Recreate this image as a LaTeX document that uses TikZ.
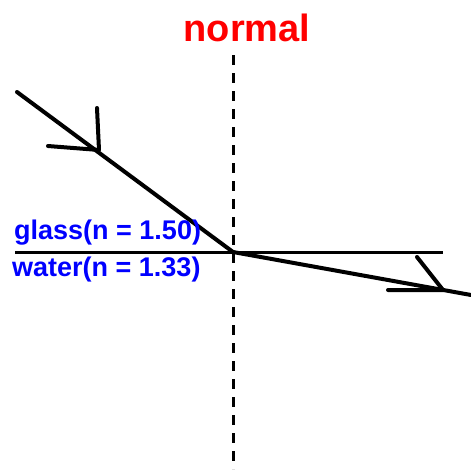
\documentclass[tikz,border=0pt]{standalone}
\usepackage{fontspec}
\setmainfont{Liberation Sans}
\begin{document}
\begin{tikzpicture}[x=1pt,y=-1pt,
  ray/.style={line width=4pt,line cap=round,line join=round,black},
  normalline/.style={line width=3pt,dash pattern=on 10pt off 8pt,black},
  surface/.style={line width=3pt,black},
  lbl/.style={inner sep=0pt,anchor=west,text=blue,font=\bfseries\fontsize{27}{28}\selectfont},
  redlbl/.style={inner sep=0pt,text=red,font=\bfseries\fontsize{38}{40}\selectfont}]
\useasboundingbox (0,0) rectangle (471,469);
\coordinate (ntop) at (233,55);
\coordinate (nbot) at (233,469);
\coordinate (sleft) at (15,252);
\coordinate (sright) at (443,252);
\coordinate (o) at (233,252);
\coordinate (start) at (17,92);
\coordinate (end) at (471,295);
\coordinate (a1tip) at (99,150);
\coordinate (a1u) at (97,108);
\coordinate (a1l) at (48,146);
\coordinate (a2tip) at (443,290);
\coordinate (a2u) at (417,257);
\coordinate (a2l) at (388,290);
\draw[normalline] (ntop) -- (nbot);
\draw[surface] (sleft) -- (sright);
\draw[ray] (start) -- (o) -- (end);
\draw[ray] (a1u) -- (a1tip) -- (a1l);
\draw[ray] (a2u) -- (a2tip) -- (a2l);
\node[redlbl] (normal) at (247,28) {normal};
\node[lbl] (glass) at (14,233) {glass(n = 1.50)};
\node[lbl] (water) at (12,270) {water(n = 1.33)};
\end{tikzpicture}
\end{document}
